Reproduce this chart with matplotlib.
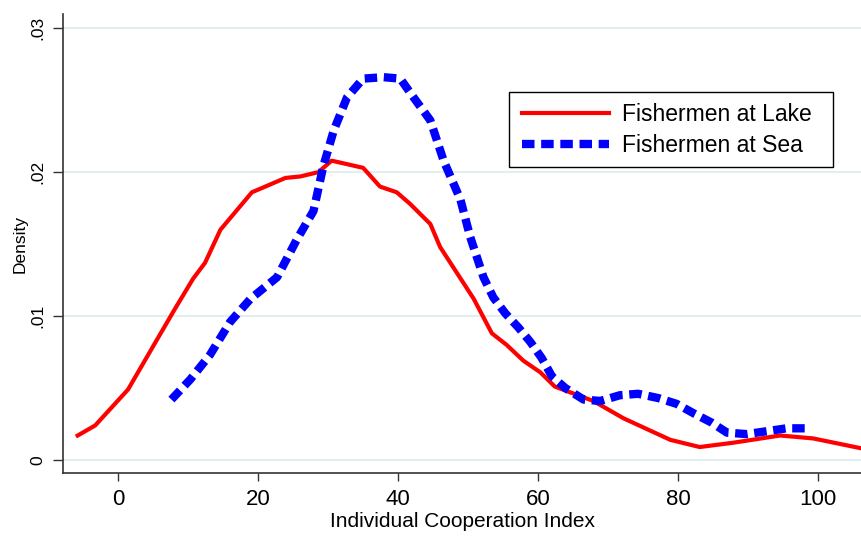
import numpy as np
import matplotlib
matplotlib.use("Agg")
from matplotlib import pyplot as plt
from matplotlib.patches import Rectangle

plt.rcParams['font.family'] = ['Liberation Sans', 'DejaVu Sans']

# Kernel density curves
lake_x = [-5.8, -3.3, 1.4, 5.1, 8.1, 10.7, 12.4, 14.6, 19.1, 23.9, 26.0, 28.6,
          30.5, 35.0, 37.4, 39.8, 41.7, 44.6, 46.0, 50.8, 53.4, 55.5, 57.9,
          60.3, 62.4, 67.9, 72.2, 78.9, 83.1, 87.9, 94.6, 99.3, 106.3]
lake_y = [0.0017, 0.0024, 0.0049, 0.0080, 0.0105, 0.0126, 0.0137, 0.0160,
          0.0186, 0.0196, 0.0197, 0.0200, 0.0208, 0.0203, 0.0190, 0.0186,
          0.0178, 0.0164, 0.0148, 0.0112, 0.0088, 0.0080, 0.0069, 0.0061,
          0.0051, 0.0041, 0.0029, 0.0014, 0.0009, 0.0012, 0.0017, 0.0015,
          0.0008]

sea_x = [7.6, 10.3, 13.1, 16.0, 18.9, 22.7, 25.5, 27.9, 29.3, 30.8, 32.7,
         35.0, 37.9, 40.3, 42.2, 44.6, 46.5, 48.9, 50.3, 52.2, 53.6, 55.3,
         57.2, 58.9, 60.5, 62.0, 63.9, 66.5, 68.9, 71.7, 74.3, 77.2, 79.8,
         82.4, 84.8, 87.0, 89.8, 92.7, 95.5, 98.6]
sea_y = [0.0042, 0.0056, 0.0073, 0.0096, 0.0112, 0.0127, 0.0153, 0.0173,
         0.0204, 0.0229, 0.0252, 0.0265, 0.0266, 0.0265, 0.0252, 0.0236,
         0.0208, 0.0181, 0.0155, 0.0127, 0.0113, 0.0102, 0.0092, 0.0082,
         0.0071, 0.0058, 0.0050, 0.0042, 0.0041, 0.0045, 0.0046, 0.0043,
         0.0039, 0.0032, 0.0026, 0.0019, 0.0018, 0.0020, 0.0022, 0.0022]

x_ticks = [0, 20, 40, 60, 80, 100]
y_ticks = [0, 0.01, 0.02, 0.03]
y_labels = ['0', '.01', '.02', '.03']

W, H = 862, 536
fig = plt.figure(figsize=(W / 100, H / 100), dpi=100)
ax = fig.add_axes([63 / W, 1 - 473.3 / H, 1 - 63 / W, (473.3 - 14) / H])

ax.plot(lake_x, lake_y, color='#ff0000', lw=3.0, solid_joinstyle='round',
        label='Fishermen at Lake')
ax.plot(sea_x, sea_y, color='#0000ff', lw=6.0, dashes=(1.5, 0.8),
        dash_capstyle='butt', label='Fishermen at Sea')

ax.set_xlim(-7.9, 106.3)
ax.set_ylim(-0.000925, 0.03099)

ax.set_xticks(x_ticks)
ax.set_yticks(y_ticks)
ax.set_yticklabels(y_labels, rotation=90, va='center')
ax.tick_params(axis='x', labelsize=16, length=6, width=1, color='#333333', pad=5)
ax.tick_params(axis='y', labelsize=12.5, length=7, width=1, color='#333333', pad=6)

ax.grid(axis='y', color='#e3eef0', lw=1.5)
ax.set_axisbelow(True)
for s in ['top', 'right']:
    ax.spines[s].set_visible(False)
for s in ['left', 'bottom']:
    ax.spines[s].set_color('#333333')
    ax.spines[s].set_linewidth(1.2)

ax.set_xlabel('Individual Cooperation Index', fontsize=15, labelpad=2)
ax.set_ylabel('Density', fontsize=12.5, labelpad=2)

# legend box drawn by hand (Stata leaves extra room on the right)
box = Rectangle((509.3 / W, 1 - 167.3 / H), (832.7 - 509.3) / W,
                (167.3 - 91.7) / H, transform=fig.transFigure,
                facecolor='white', edgecolor='black', lw=1.0, zorder=4,
                clip_on=False)
ax.add_patch(box)
leg = ax.legend(loc='upper left', bbox_to_anchor=(512.5 / W, 1 - 94 / H),
                bbox_transform=fig.transFigure, borderaxespad=0,
                fontsize=16.5, handlelength=3.8, handletextpad=0.6,
                labelspacing=0.35, borderpad=0.4, frameon=False)
leg.set_zorder(6)

fig.savefig('out.png', dpi=100)
